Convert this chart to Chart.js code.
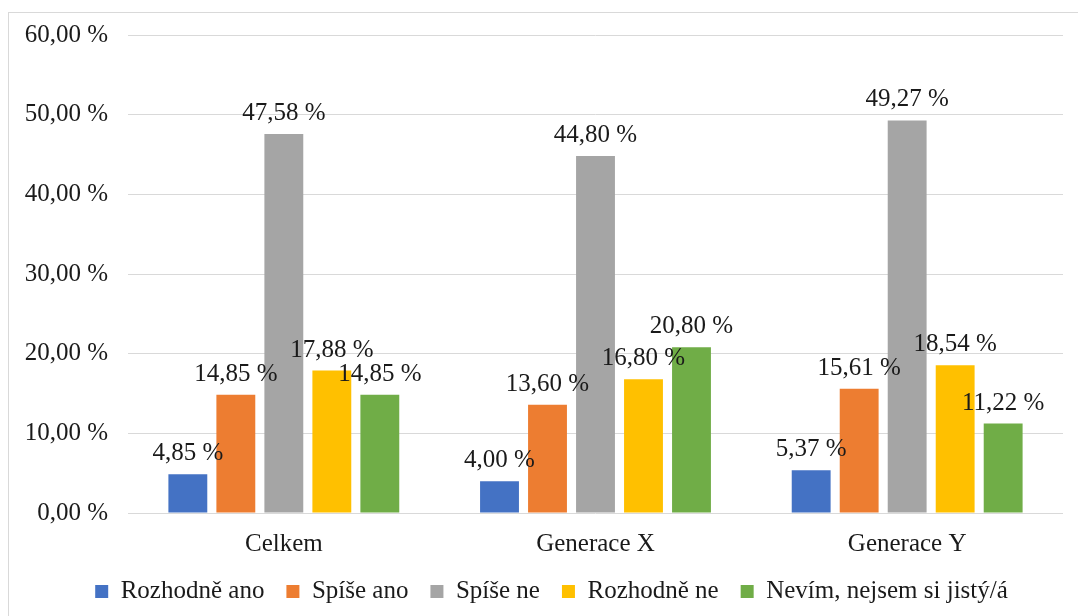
<!DOCTYPE html>
<html>
<head>
<meta charset="utf-8">
<script src="https://cdn.jsdelivr.net/npm/chart.js@4"></script>
<style>
  html, body { margin: 0; padding: 0; background: #fff; overflow: hidden; }
  #frame {
    position: absolute; left: 8px; top: 12px;
    width: 1100px; height: 640px;
    border: 1px solid #d9d9d9;
  }
  #wrap { position: absolute; left: 0; top: 0; width: 1078px; height: 614px; }
</style>
</head>
<body>
<div id="frame"></div>
<div id="wrap"><canvas id="chart"></canvas></div>
<script>
const categories = ['Celkem', 'Generace X', 'Generace Y'];
const seriesNames = ['Rozhodně ano', 'Spíše ano', 'Spíše ne', 'Rozhodně ne', 'Nevím, nejsem si jistý/á'];
const rozhodneAno = [4.85, 4.00, 5.37];
const spiseAno = [14.85, 13.60, 15.61];
const spiseNe = [47.58, 44.80, 49.27];
const rozhodneNe = [17.88, 16.80, 18.54];
const nevim = [14.85, 20.80, 11.22];
const colors = ['#4472C4', '#ED7D31', '#A5A5A5', '#FFC000', '#70AD47'];

const FONT = '"Liberation Serif", "Times New Roman", serif';
const fmt = v => v.toFixed(2).replace('.', ',') + ' %';

// draws value labels above each bar
const valueLabels = {
    id: 'valueLabels',
    afterDatasetsDraw(chart) {
        const ctx = chart.ctx;
        ctx.save();
        ctx.font = '25px ' + FONT;
        ctx.fillStyle = '#1a1a1a';
        ctx.textAlign = 'center';
        ctx.textBaseline = 'alphabetic';
        chart.data.datasets.forEach((ds, i) => {
            chart.getDatasetMeta(i).data.forEach((bar, j) => {
                ctx.fillText(fmt(ds.data[j]), bar.x, bar.y - 14);
            });
        });
        ctx.restore();
    }
};

// nudge the legend a bit to the right, like the original
const legendShift = {
    id: 'legendShift',
    afterLayout(chart) {
        if (chart.legend) {
            chart.legend.left += 20;
            chart.legend.right += 20;
        }
    }
};

const allSeries = [rozhodneAno, spiseAno, spiseNe, rozhodneNe, nevim];

new Chart(document.getElementById('chart'), {
    type: 'bar',
    data: {
        labels: categories,
        datasets: allSeries.map((data, i) => ({
            label: seriesNames[i],
            data: data,
            backgroundColor: colors[i],
            categoryPercentage: 0.77,
            barPercentage: 0.81
        }))
    },
    options: {
        responsive: true,
        maintainAspectRatio: false,
        animation: false,
        layout: { padding: { top: 35, right: 15, left: 0, bottom: 0 } },
        scales: {
            x: {
                afterFit(scale) { scale.height -= 10; },
                grid: { display: false },
                border: { display: false },
                ticks: { color: '#1a1a1a', font: { family: FONT, size: 25 }, padding: 8 }
            },
            y: {
                min: 0,
                max: 60,
                afterFit(scale) { scale.width = 128; },
                grid: { color: '#d9d9d9', lineWidth: 1, drawTicks: false },
                border: { display: false },
                ticks: {
                    stepSize: 10,
                    padding: 20,
                    color: '#1a1a1a',
                    font: { family: FONT, size: 25 },
                    callback: v => fmt(v)
                }
            }
        },
        plugins: {
            legend: {
                position: 'bottom',
                labels: {
                    boxWidth: 13,
                    boxHeight: 13,
                    padding: 22,
                    color: '#1a1a1a',
                    font: { family: FONT, size: 25 }
                }
            },
            tooltip: { enabled: false }
        }
    },
    plugins: [valueLabels, legendShift]
});
</script>
</body>
</html>
